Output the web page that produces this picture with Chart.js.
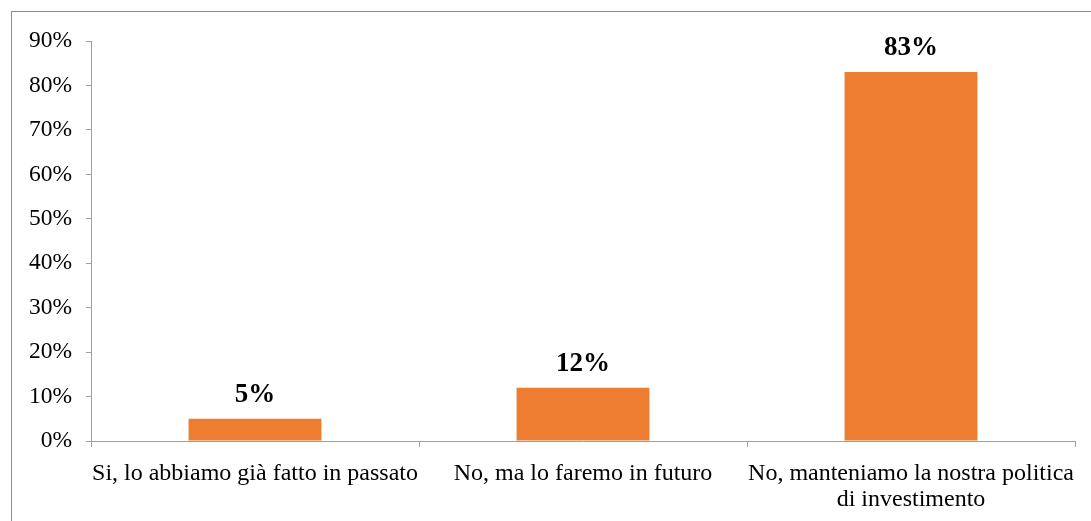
<!DOCTYPE html>
<html>
<head>
<meta charset="utf-8">
<script src="https://cdn.jsdelivr.net/npm/chart.js@4.4.1/dist/chart.umd.min.js"></script>
<style>
  html, body { margin: 0; padding: 0; background: #ffffff; }
  #wrap { position: relative; width: 1091px; height: 521px; }
</style>
</head>
<body>
<div id="wrap"><canvas id="c" width="1091" height="521"></canvas></div>
<script>
// Survey answers and their shares (%)
const categories = [
  'Si, lo abbiamo già fatto in passato',
  'No, ma lo faremo in futuro',
  ['No, manteniamo la nostra politica', 'di investimento']
];
const shares = [5, 12, 83];
const yTicks = [0, 10, 20, 30, 40, 50, 60, 70, 80, 90];

const serif = "'Liberation Serif', 'Times New Roman', serif";
const axisGray = '#a0a0a0';

// Outer frame around the chart
const framePlugin = {
  id: 'frame',
  beforeDraw(chart) {
    const ctx = chart.ctx;
    ctx.save();
    ctx.strokeStyle = '#8c8c8c';
    ctx.lineWidth = 1;
    ctx.strokeRect(11.5, 11.5, 1200, 600);
    ctx.restore();
  }
};

// Bold percentage labels above each bar
const valueLabels = {
  id: 'valueLabels',
  afterDatasetsDraw(chart) {
    const ctx = chart.ctx;
    const meta = chart.getDatasetMeta(0);
    ctx.save();
    ctx.font = "bold 27px " + serif;
    ctx.fillStyle = '#000000';
    ctx.textAlign = 'center';
    ctx.textBaseline = 'alphabetic';
    meta.data.forEach((bar, i) => {
      ctx.fillText(shares[i] + '%', bar.x, bar.y - 17);
    });
    ctx.restore();
  }
};

new Chart(document.getElementById('c'), {
  type: 'bar',
  data: {
    labels: categories,
    datasets: [{
      data: shares,
      backgroundColor: '#ED7D31',
      borderWidth: 0,
      categoryPercentage: 0.405,
      barPercentage: 1.0
    }]
  },
  options: {
    responsive: false,
    animation: false,
    devicePixelRatio: 1,
    layout: { padding: { top: 41, right: 16, left: 0, bottom: 0 } },
    plugins: { legend: { display: false }, tooltip: { enabled: false } },
    scales: {
      x: {
        grid: {
          display: true,
          drawOnChartArea: false,
          drawTicks: true,
          tickLength: 6,
          color: axisGray,
          offset: true
        },
        border: { display: true, color: axisGray, width: 1 },
        ticks: {
          color: '#000000',
          font: { family: serif, size: 24, lineHeight: 1.08 },
          padding: 14,
          maxRotation: 0,
          autoSkip: false
        },
        afterFit(scale) { scale.height = 80; }
      },
      y: {
        min: 0,
        max: 90,
        afterBuildTicks(scale) { scale.ticks = yTicks.map(v => ({ value: v })); },
        grid: {
          display: true,
          drawOnChartArea: false,
          drawTicks: true,
          tickLength: 5,
          color: axisGray
        },
        border: { display: true, color: axisGray, width: 1 },
        ticks: {
          color: '#000000',
          font: { family: serif, size: 23.5 },
          padding: 14,
          callback: v => v + '%'
        },
        afterFit(scale) { scale.width = 91; }
      }
    }
  },
  plugins: [framePlugin, valueLabels]
});
</script>
</body>
</html>
